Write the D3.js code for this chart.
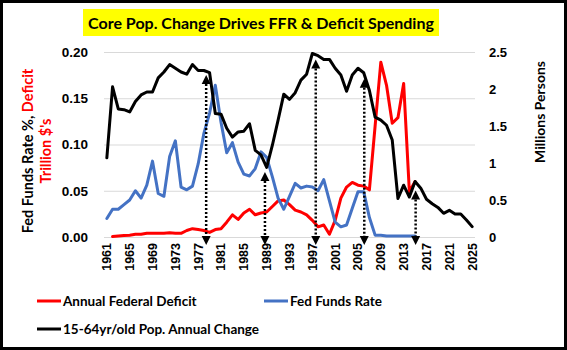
<!DOCTYPE html>
<html>
<head>
<meta charset="utf-8">
<script src="https://cdn.jsdelivr.net/npm/d3@7"></script>
<style>
  body { margin: 0; background: #fff; }
  svg { display: block; font-family: Lato, "Open Sans", sans-serif; font-weight: bold; }
</style>
</head>
<body>
<div id="chart"></div>
<script>
// Data
const years = [1961, 1962, 1963, 1964, 1965, 1966, 1967, 1968, 1969, 1970,
  1971, 1972, 1973, 1974, 1975, 1976, 1977, 1978, 1979, 1980,
  1981, 1982, 1983, 1984, 1985, 1986, 1987, 1988, 1989, 1990,
  1991, 1992, 1993, 1994, 1995, 1996, 1997, 1998, 1999, 2000,
  2001, 2002, 2003, 2004, 2005, 2006, 2007, 2008, 2009, 2010,
  2011, 2012, 2013, 2014, 2015, 2016, 2017, 2018, 2019, 2020,
  2021, 2022, 2023, 2024, 2025];

// Trillion $'s (left axis), 1962-2015
const deficit = [null, 0.0005, 0.001, 0.0015, 0.002, 0.003, 0.003, 0.004, 0.004, 0.004,
  0.004, 0.0045, 0.004, 0.004, 0.007, 0.009, 0.008, 0.007, 0.005, 0.008,
  0.009, 0.016, 0.024, 0.019, 0.026, 0.030, 0.024, 0.026, 0.027, 0.033,
  0.039, 0.040, 0.035, 0.029, 0.027, 0.024, 0.018, 0.011, 0.013, 0.003,
  0.018, 0.042, 0.054, 0.059, 0.056, 0.055, 0.051, 0.120, 0.189, 0.164,
  0.123, 0.129, 0.166, 0.049, 0.060, null, null, null, null, null,
  null, null, null, null, null];

// Fed funds rate (left axis), 1961-2015
const fedFunds = [0.020, 0.030, 0.030, 0.035, 0.040, 0.050, 0.042, 0.056, 0.082, 0.047,
  0.044, 0.087, 0.104, 0.054, 0.051, 0.055, 0.079, 0.112, 0.134, 0.164,
  0.124, 0.091, 0.102, 0.081, 0.068, 0.066, 0.074, 0.092, 0.086, 0.065,
  0.042, 0.030, 0.044, 0.058, 0.053, 0.055, 0.054, 0.050, 0.062, 0.039,
  0.016, 0.011, 0.013, 0.031, 0.049, 0.049, 0.021, 0.002, 0.002, 0.001,
  0.001, 0.001, 0.001, 0.001, 0.001, null, null, null, null, null,
  null, null, null, null, null];

// 15-64 yr old population change, millions (right axis)
const popChange = [1.07, 2.03, 1.73, 1.72, 1.69, 1.83, 1.92, 1.96, 1.96, 2.15,
  2.23, 2.33, 2.28, 2.23, 2.20, 2.33, 2.25, 2.25, 2.22, 1.67,
  1.66, 1.47, 1.35, 1.42, 1.43, 1.53, 1.17, 1.11, 0.94, 1.24,
  1.58, 1.93, 1.86, 1.95, 2.12, 2.20, 2.48, 2.45, 2.40, 2.40,
  2.28, 2.19, 1.97, 2.19, 2.28, 2.22, 1.98, 1.62, 1.58, 1.51,
  1.31, 0.52, 0.70, 0.54, 0.75, 0.66, 0.51, 0.45, 0.40, 0.32,
  0.36, 0.31, 0.31, 0.23, 0.14];

const leftTicks = [0, 0.05, 0.10, 0.15, 0.20];
const rightTicks = [0, 0.5, 1, 1.5, 2, 2.5];
const yearLabels = [1961, 1965, 1969, 1973, 1977, 1981, 1985, 1989, 1993,
  1997, 2001, 2005, 2009, 2013, 2017, 2021, 2025];

// dotted double arrows: position in years, top in millions persons
const arrowYears = [1978.4, 1988.7, 1997.6, 2006.1, 2015.1];
const arrowTops = [2.19, 0.88, 2.40, 2.14, 0.63];

const seriesNames = ["Annual Federal Deficit", "Fed Funds Rate", "15-64yr/old Pop. Annual Change"];
const seriesColors = ["#ff0000", "#4472c4", "#000000"];

const W = 567, H = 350;
const margin = {top: 52, right: 92, bottom: 113, left: 104};
const width = W - margin.left - margin.right;
const height = H - margin.top - margin.bottom;

const svg = d3.select("#chart").append("svg")
  .attr("width", W).attr("height", H);

// outer border
svg.append("rect")
  .attr("x", 1.5).attr("y", 1.5)
  .attr("width", W - 3).attr("height", H - 3)
  .attr("fill", "#fff").attr("stroke", "#000").attr("stroke-width", 3);

function fit(sel, w) {
  const len = sel.node().getComputedTextLength();
  sel.attr("font-size", parseFloat(sel.attr("font-size")) * w / len);
}

// title
svg.append("rect").attr("fill", "#ffff00")
  .attr("x", 83).attr("y", 9).attr("width", 356).attr("height", 27);
const title = svg.append("text")
  .attr("x", 261).attr("y", 29)
  .attr("text-anchor", "middle")
  .attr("font-size", 17)
  .text("Core Pop. Change Drives FFR & Deficit Spending");
fit(title, 346);

const g = svg.append("g")
  .attr("transform", `translate(${margin.left},${margin.top})`);

const x = d3.scaleBand().domain(years).range([0, width]).padding(0);
const cx = d => x(d) + x.bandwidth() / 2;
const xYear = d3.scaleLinear().domain([years[0], years[years.length - 1]])
  .range([cx(years[0]), cx(years[years.length - 1])]);
const yL = d3.scaleLinear().domain([0, 0.2]).range([height, 0]);
const yR = d3.scaleLinear().domain([0, 2.5]).range([height, 0]);

// gridlines
g.append("g")
  .call(d3.axisLeft(yL).tickValues(leftTicks).tickSize(-width).tickFormat(""))
  .call(s => s.select(".domain").remove())
  .call(s => s.selectAll("line").attr("stroke", "#d9d9d9").attr("stroke-width", 1));

// left axis labels
g.append("g")
  .call(d3.axisLeft(yL).tickValues(leftTicks).tickSize(0).tickPadding(16)
    .tickFormat(d3.format(".2f")))
  .call(s => s.select(".domain").remove())
  .call(s => s.selectAll("text").attr("font-size", 13.5).attr("font-family", null)
    .attr("fill", "#000"));

// right axis labels
g.append("g")
  .attr("transform", `translate(${width},0)`)
  .call(d3.axisRight(yR).tickValues(rightTicks).tickSize(0).tickPadding(14)
    .tickFormat(d => String(d)))
  .call(s => s.select(".domain").remove())
  .call(s => s.selectAll("text").attr("font-size", 13).attr("font-family", null)
    .attr("fill", "#000"));

// x axis labels
g.append("g")
  .attr("transform", `translate(0,${height})`)
  .call(d3.axisBottom(x).tickValues(yearLabels).tickSize(0).tickPadding(0))
  .call(s => s.select(".domain").remove())
  .call(s => s.selectAll("text")
    .attr("font-size", 12.5).attr("font-family", null).attr("fill", "#000")
    .attr("transform", "rotate(-90)")
    .attr("text-anchor", "end")
    .attr("x", -6).attr("y", 0).attr("dy", "0.35em"));

// axis titles
const lt = svg.append("text")
  .attr("transform", "translate(33,151) rotate(-90)")
  .attr("text-anchor", "middle")
  .attr("font-size", 14.5);
lt.append("tspan").attr("fill", "#000").text("Fed Funds Rate %, ");
lt.append("tspan").attr("fill", "#ff0000").text("Deficit");
svg.append("text")
  .attr("transform", "translate(51,151) rotate(-90)")
  .attr("text-anchor", "middle")
  .attr("font-size", 14.5)
  .attr("fill", "#ff0000")
  .text("Trillion $'s");
svg.append("text")
  .attr("transform", "translate(545,112) rotate(-90)")
  .attr("text-anchor", "middle")
  .attr("font-size", 14)
  .text("Millions Persons");

// lines
function drawLine(values, y, color) {
  const line = d3.line()
    .defined(d => d[1] != null)
    .x(d => cx(d[0]))
    .y(d => y(d[1]));
  g.append("path")
    .datum(years.map((yr, i) => [yr, values[i]]))
    .attr("fill", "none")
    .attr("stroke", color)
    .attr("stroke-width", 3)
    .attr("stroke-linejoin", "round")
    .attr("stroke-linecap", "round")
    .attr("d", line);
}
drawLine(deficit, yL, seriesColors[0]);
drawLine(fedFunds, yL, seriesColors[1]);
drawLine(popChange, yR, seriesColors[2]);

// dotted double-headed arrows
const head = 9, hw = 4.5;
const bottomTip = height + 8;
const arrows = g.append("g").selectAll("g")
  .data(arrowYears.map((yr, i) => ({yr, top: arrowTops[i]})))
  .join("g");
arrows.append("line")
  .attr("x1", d => xYear(d.yr)).attr("x2", d => xYear(d.yr))
  .attr("y1", d => yR(d.top) + head).attr("y2", bottomTip - head)
  .attr("stroke", "#000").attr("stroke-width", 2.5)
  .attr("stroke-dasharray", "2,2");
arrows.append("path")
  .attr("d", d => {
    const ax = xYear(d.yr), t = yR(d.top);
    return `M${ax},${t}L${ax - hw},${t + head}L${ax + hw},${t + head}Z`;
  });
arrows.append("path")
  .attr("d", d => {
    const ax = xYear(d.yr);
    return `M${ax},${bottomTip}L${ax - hw},${bottomTip - head}L${ax + hw},${bottomTip - head}Z`;
  });

// legend
const legendPos = [[37, 301], [264, 301], [37, 329]];
const leg = svg.append("g").selectAll("g")
  .data(seriesNames)
  .join("g")
  .attr("transform", (d, i) => `translate(${legendPos[i][0]},${legendPos[i][1]})`);
leg.append("line")
  .attr("x1", 0).attr("x2", 24)
  .attr("stroke", (d, i) => seriesColors[i])
  .attr("stroke-width", 3);
leg.append("text")
  .attr("x", 26).attr("dy", "0.35em")
  .attr("font-size", 13.5)
  .text(d => d);
</script>
</body>
</html>
